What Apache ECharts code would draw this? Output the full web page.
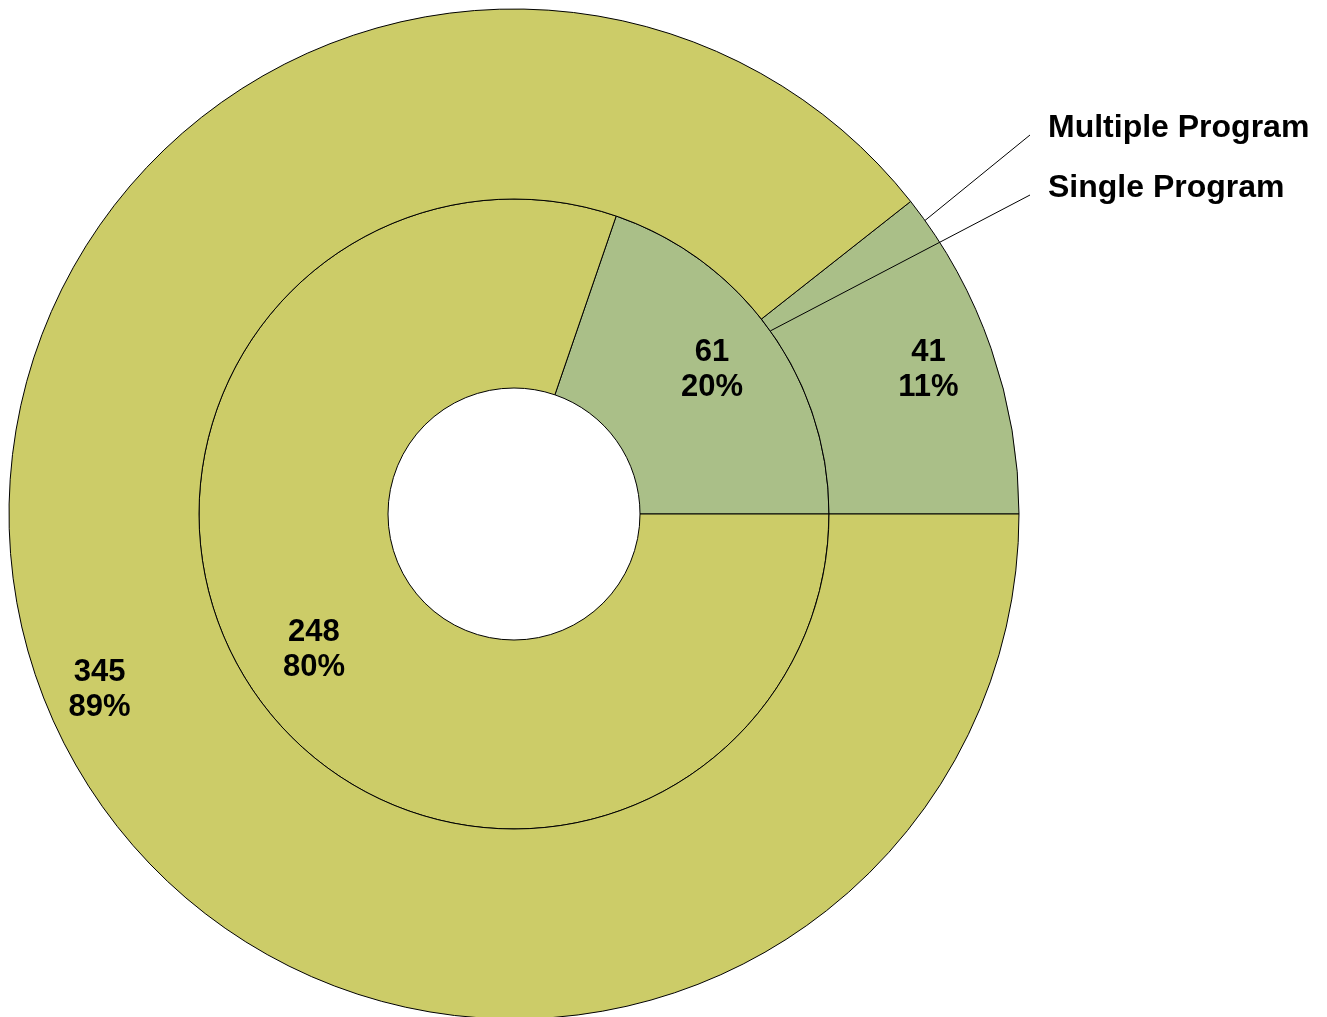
<!DOCTYPE html>
<html>
<head>
<meta charset="utf-8">
<script src="https://cdn.jsdelivr.net/npm/echarts@6/dist/echarts.min.js"></script>
<style>
html,body{margin:0;padding:0;background:#ffffff;}
#chart{width:1327px;height:1017px;}
</style>
</head>
<body>
<div id="chart"></div>
<script>
// ---- data ----
const categories = ['Yes', 'No'];
const seriesNames = ['Single Program', 'Multiple Program'];
const singleProgram = [61, 248];     // inner ring
const multipleProgram = [41, 345];   // outer ring
const sliceColors = ['#AABF88', '#CCCC68'];

// ---- layout ----
const CX = 514, CY = 514;
const R_HOLE = 126, R_MID = 315, R_OUT = 505;
const FONT = '"Liberation Sans", Arial, sans-serif';
// small per-label nudges (px) to mimic the original label placement
const innerNudge = [[-2, -1], [0, -7]];
const outerNudge = [[-7, 2], [7, 30]];

function toData(values) {
  return values.map((v, i) => ({ value: v, name: categories[i], itemStyle: { color: sliceColors[i] } }));
}

// push inside labels slightly outward from centre (Excel-like placement)
function pushOut(k, nudge) {
  return function (p) {
    const r = p.labelRect;
    const lx = r.x + r.width / 2, ly = r.y + r.height / 2;
    const n = nudge[p.dataIndex] || [0, 0];
    return { dx: (lx - CX) * (k - 1) + n[0], dy: (ly - CY) * (k - 1) + n[1] };
  };
}

function nameLabel(x, y) {
  return function (p) {
    if (p.dataIndex !== 0 || !p.labelLinePoints) return {};
    const s = p.labelLinePoints[0];
    const e = [x - 18, y + 7];
    return { x: x, y: y, align: 'left', verticalAlign: 'middle', labelLinePoints: [s, e, e] };
  };
}

function ring(name, values, r0, r1, k, nudge) {
  return {
    type: 'pie', name: name, z: 2,
    center: [CX, CY], radius: [r0, r1],
    startAngle: 0, clockwise: false,
    avoidLabelOverlap: false, percentPrecision: 0,
    silent: true, animation: false,
    itemStyle: { borderColor: '#000', borderWidth: 1 },
    label: {
      show: true, position: 'inside', formatter: '{c}\n{d}%',
      color: '#000', fontFamily: FONT, fontWeight: 'bold', fontSize: 31, lineHeight: 35
    },
    labelLine: { show: false },
    labelLayout: pushOut(k, nudge),
    emphasis: { disabled: true },
    data: toData(values)
  };
}

// helper overlay: series-name label with leader line (anchored at first inner slice angle)
function nameOverlay(name, r0, r1, lx, ly) {
  return {
    type: 'pie', name: name, z: 6,
    center: [CX, CY], radius: [r0, r1],
    startAngle: 0, clockwise: false,
    avoidLabelOverlap: false,
    silent: true, animation: false,
    itemStyle: { color: 'rgba(0,0,0,0)', borderWidth: 0 },
    label: { show: false },
    labelLine: { show: false },
    labelLayout: nameLabel(lx, ly),
    emphasis: { disabled: true },
    data: singleProgram.map((v, i) => ({
      value: v, name: categories[i],
      label: i === 0 ? {
        show: true, position: 'outside', formatter: name,
        color: '#000', fontFamily: FONT, fontWeight: 'bold', fontSize: 32
      } : { show: false },
      labelLine: i === 0 ? { show: true, length: 20, length2: 20, lineStyle: { color: '#000', width: 1 } } : { show: false }
    }))
  };
}

const chart = echarts.init(document.getElementById('chart'), null, { renderer: 'canvas' });
chart.setOption({
  backgroundColor: '#ffffff',
  animation: false,
  series: [
    ring(seriesNames[0], singleProgram, R_HOLE, R_MID, 1.10, innerNudge),
    ring(seriesNames[1], multipleProgram, R_MID, R_OUT, 1.08, outerNudge),
    nameOverlay(seriesNames[1], R_MID, R_OUT, 1048, 128),
    nameOverlay(seriesNames[0], R_HOLE, R_MID, 1048, 188)
  ]
});
</script>
</body>
</html>
